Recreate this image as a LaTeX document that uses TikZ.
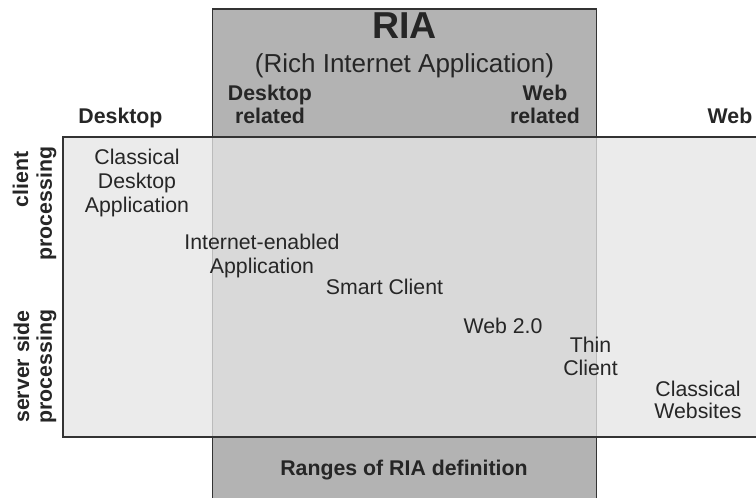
\documentclass[tikz,border=0pt]{standalone}
\usepackage{fontspec}
\setmainfont{Liberation Sans}
\definecolor{ink}{HTML}{262626}
\definecolor{riafill}{HTML}{B3B3B3}
\definecolor{frame}{HTML}{333333}
\begin{document}
\begin{tikzpicture}[x=1pt,y=-1pt,
  txt/.style={text=ink,inner sep=0pt,align=center,anchor=base,
    font=\fontsize{21.3}{24}\selectfont},
  lbl/.style={text=ink,inner sep=0pt,align=center,anchor=base,
    font=\bfseries\fontsize{21.3}{23}\selectfont}]
\useasboundingbox (0,0) rectangle (756,498);
% RIA column (drawn first, seen through the processing band)
\draw[frame,line width=1.3pt,fill=riafill] (212.5,9) rectangle (596.5,505);
% processing band, translucent over the RIA column
\fill[black!10,fill opacity=0.77] (63,137) rectangle (765,437);
\draw[frame,line width=1.3pt] (765,137) -- (63,137) -- (63,437) -- (765,437);
% column headings (multi-line nodes sit on the baseline of their last line)
\node[text=ink,inner sep=0pt,anchor=base,font=\bfseries\fontsize{37.5}{40}\selectfont] (ria) at (404.5,38) {RIA};
\node[txt,font=\fontsize{26}{28}\selectfont] (riafull) at (404.5,72) {(Rich Internet Application)};
\node[lbl] (deskrel) at (270,123) {Desktop\\related};
\node[lbl] (webrel) at (545,123) {Web\\related};
\node[lbl] (desk) at (120.5,123) {Desktop};
\node[lbl] (web) at (730,123) {Web};
\node[lbl] (ranges) at (404,475) {Ranges of RIA definition};
% row headings
\node[lbl,rotate=90] (client) at (28,179.5) {client};
\node[lbl,rotate=90] (clientproc) at (52,203.5) {processing};
\node[lbl,rotate=90] (server) at (52,366.5) {server side\\processing};
% application kinds
\node[txt] (cda) at (137,212) {Classical\\Desktop\\Application};
\node[txt] (iea) at (262,273) {Internet-enabled\\Application};
\node[txt] (smart) at (384.5,294) {Smart Client};
\node[txt] (web2) at (503,333) {Web 2.0};
\node[txt,font=\fontsize{21.3}{23}\selectfont] (thin) at (590.5,375) {Thin\\Client};
\node[txt,font=\fontsize{21.3}{22}\selectfont] (sites) at (698,418) {Classical\\Websites};
\end{tikzpicture}
\end{document}
